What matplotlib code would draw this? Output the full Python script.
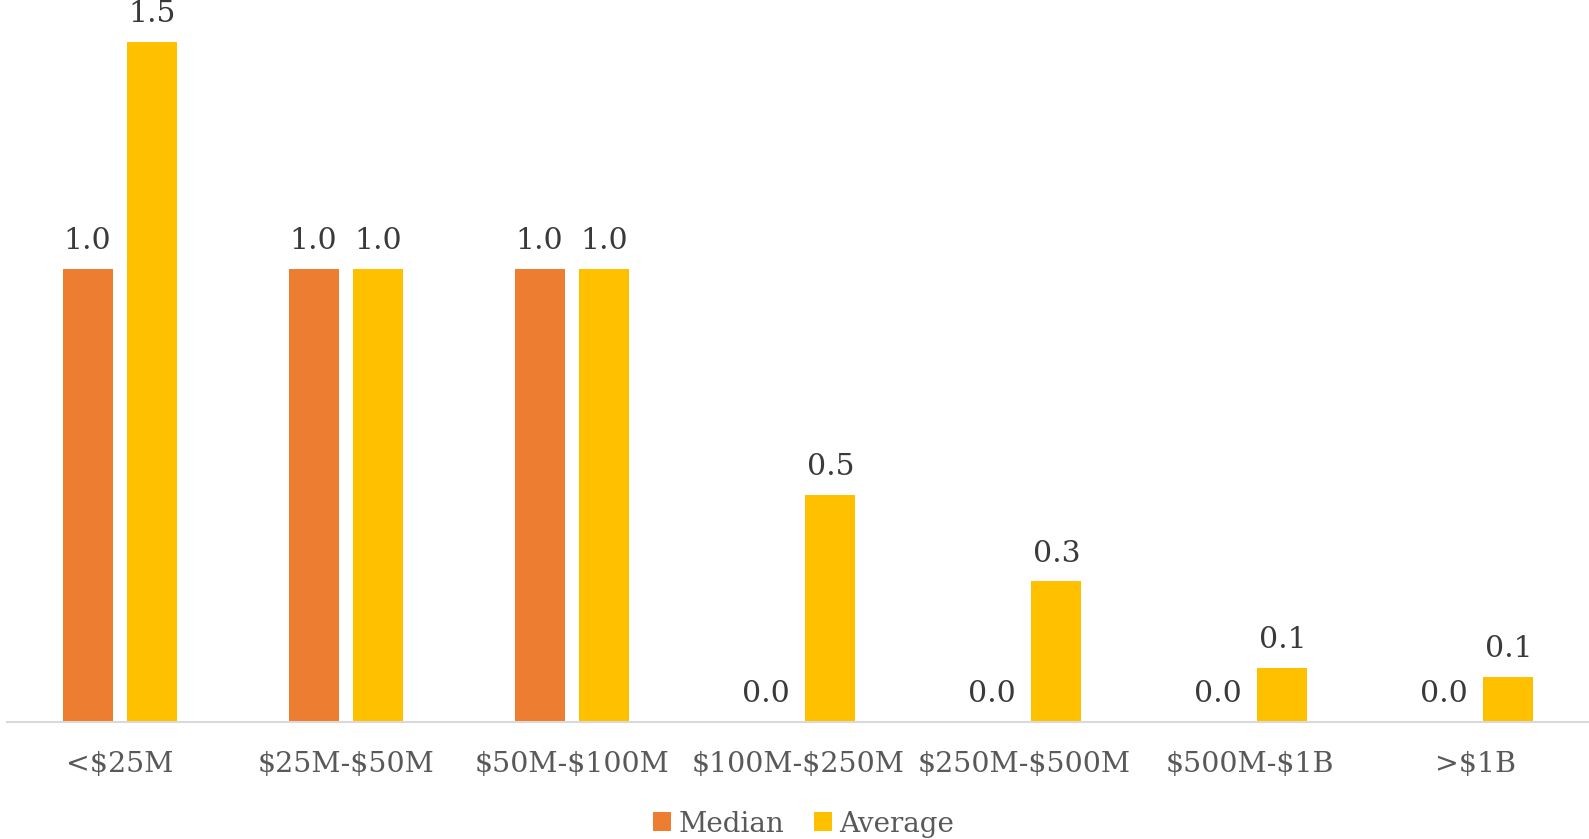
import matplotlib
matplotlib.use("Agg")
import matplotlib.pyplot as plt
import numpy as np

categories = ["<$25M", "$25M-$50M", "$50M-$100M", "$100M-$250M",
              "$250M-$500M", "$500M-$1B", ">$1B"]
median = [1.0, 1.0, 1.0, 0.0, 0.0, 0.0, 0.0]
average = [1.5, 1.0, 1.0, 0.5, 0.31, 0.12, 0.1]

plt.rcParams['font.family'] = ['DejaVu Serif']

fig = plt.figure(figsize=(15.89, 8.39), dpi=100)
ax = fig.add_axes([7 / 1589, 1 - 722 / 839, 1 - 7 / 1589, 722 / 839])

x = np.arange(len(categories))
w = 0.222
b1 = ax.bar(x - 0.143, median, w, color="#ED7D31", label="Median")
b2 = ax.bar(x + 0.143, average, w, color="#FFC000", label="Average")

for bars in (b1, b2):
    for r in bars:
        h = r.get_height()
        ax.annotate(f"{h:.1f}", (r.get_x() + r.get_width() / 2, h),
                    xytext=(0, 10), textcoords="offset points",
                    ha="center", va="bottom", fontsize=21.5, color="#3A3A3A")

ax.set_xlim(-0.5, len(categories) - 0.5)
ax.set_ylim(0, 722 / 453.3)
ax.set_xticks(x)
ax.set_xticklabels(categories, fontsize=20.5, color="#595959", parse_math=False)
ax.tick_params(axis="x", length=0, pad=21)
ax.set_yticks([])
for s in ["top", "right", "left"]:
    ax.spines[s].set_visible(False)
ax.spines["bottom"].set_color("#D9D9D9")
ax.spines["bottom"].set_linewidth(1.5)
ax.patch.set_visible(False)

fig.legend(handles=[b1, b2], loc="center", bbox_to_anchor=(0.5058, 1 - 824 / 839),
           ncol=2, frameon=False, fontsize=20, labelcolor="#595959",
           handlelength=0.65, handleheight=0.65, handletextpad=0.25, columnspacing=1.1)

fig.savefig("out.png", dpi=100)
